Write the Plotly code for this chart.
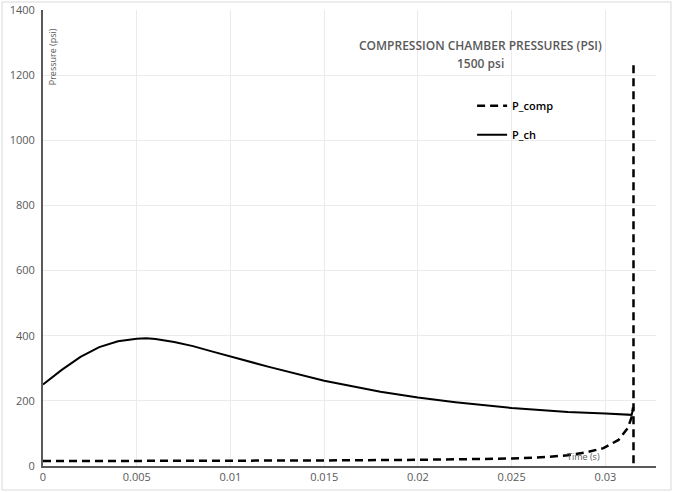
import plotly.graph_objects as go

# Data
t_ch = [0, 0.001, 0.002, 0.003, 0.004, 0.005, 0.0055, 0.006, 0.007, 0.008, 0.009, 0.010,
        0.012, 0.015, 0.018, 0.020, 0.022, 0.025, 0.028, 0.030, 0.0314, 0.0315]
p_ch = [250, 295, 335, 365, 383, 391, 392, 390, 381, 368, 352, 336,
        305, 262, 228, 210, 196, 178, 166, 161, 157, 180]

t_comp = [0, 0.005, 0.010, 0.015, 0.020, 0.025, 0.027, 0.028, 0.029, 0.0299, 0.0307,
          0.0312, 0.0314, 0.03148, 0.03150, 0.03150, 0.03150]
p_comp = [15, 15, 16, 17, 19, 23, 28, 33, 42, 55, 80,
          117, 150, 180, None, 1230, 0]

x_ticks = [0, 0.005, 0.01, 0.015, 0.02, 0.025, 0.03]
x_tick_text = ["0", "0.005", "0.01", "0.015", "0.02", "0.025", "0.03"]
y_ticks = [0, 200, 400, 600, 800, 1000, 1200, 1400]

FONT = "Open Sans, Liberation Sans, sans-serif"

fig = go.Figure()
fig.add_trace(go.Scatter(x=t_comp, y=p_comp, mode="lines", name="P_comp",
                         legendgroup="a", connectgaps=False,
                         line=dict(color="black", width=2.5, dash="8px,5px")))
fig.add_trace(go.Scatter(x=t_ch, y=p_ch, mode="lines", name="P_ch",
                         legendgroup="b",
                         line=dict(color="black", width=2)))

tick_font = dict(family=FONT, size=11, color="#595959")

fig.update_layout(
    width=673, height=492,
    margin=dict(l=43, r=17, t=10, b=26),
    paper_bgcolor="white", plot_bgcolor="white",
    showlegend=True,
    legend=dict(x=0.70, y=0.822, xanchor="left", yanchor="top",
                bgcolor="rgba(0,0,0,0)", tracegroupgap=10, traceorder="grouped",
                itemwidth=30,
                font=dict(family=FONT, size=11, color="black", weight=600)),
    xaxis=dict(range=[0, 0.0327], tickvals=x_ticks, ticktext=x_tick_text,
               automargin=False,
               showgrid=True, gridcolor="#ebebeb", gridwidth=1,
               showline=True, linecolor="#595959", linewidth=2,
               zeroline=False, ticks="", tickfont=tick_font),
    yaxis=dict(range=[0, 1400], tickvals=y_ticks, automargin=False,
               ticklabelstandoff=4,
               showgrid=True, gridcolor="#ebebeb", gridwidth=1,
               showline=True, linecolor="#595959", linewidth=2,
               zeroline=False, ticks="", tickfont=tick_font),
    annotations=[
        dict(text="COMPRESSION CHAMBER PRESSURES (PSI)", xref="paper", yref="paper",
             x=0.713, y=0.923, xanchor="center", yanchor="middle", showarrow=False,
             font=dict(family=FONT, size=12, color="#595959", weight=600)),
        dict(text="1500 psi", xref="paper", yref="paper",
             x=0.713, y=0.882, xanchor="center", yanchor="middle", showarrow=False,
             font=dict(family=FONT, size=12, color="#595959", weight=600)),
        dict(text="Pressure (psi)", xref="paper", yref="paper", textangle=-90,
             x=0.016, y=0.965, xanchor="center", yanchor="top", showarrow=False,
             font=dict(family=FONT, size=9, color="#595959")),
        dict(text="Time (s)", xref="paper", yref="paper",
             x=0.881, y=0.02, xanchor="center", yanchor="middle", showarrow=False,
             font=dict(family=FONT, size=9, color="#595959")),
    ],
    shapes=[
        dict(type="rect", xref="paper", yref="paper",
             x0=-41/613, x1=1 + 15/613, y0=-24/456, y1=1 + 8/456,
             line=dict(color="#d9d9d9", width=1), fillcolor="rgba(0,0,0,0)", layer="below"),
    ],
)

fig.write_html("out.html", config={"displayModeBar": False},
               post_script="document.body.style.margin='0px';")
